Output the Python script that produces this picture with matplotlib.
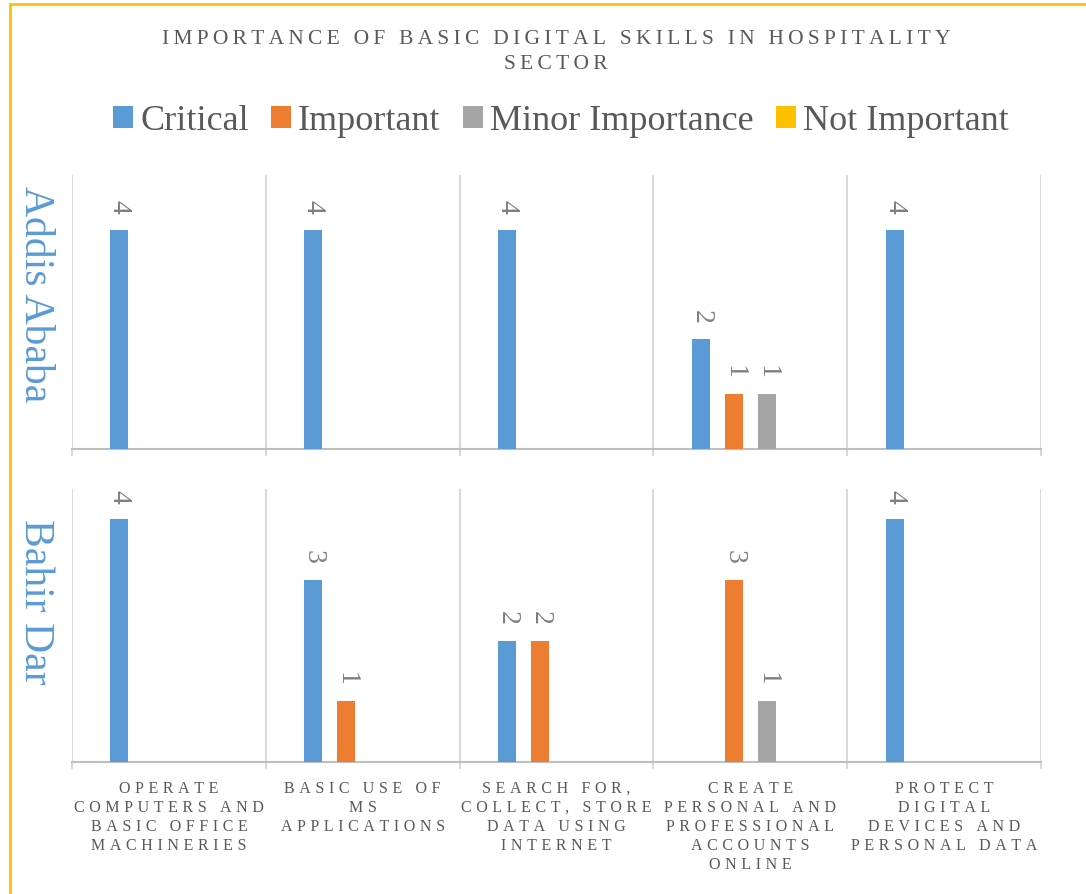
import matplotlib
matplotlib.use("Agg")
import matplotlib.pyplot as plt
from matplotlib.patches import Rectangle, Patch
import numpy as np

plt.rcParams['font.family'] = ['Liberation Serif', 'DejaVu Serif']

title = "IMPORTANCE OF BASIC DIGITAL SKILLS IN HOSPITALITY\nSECTOR"
categories = [
    "OPERATE\nCOMPUTERS AND\nBASIC OFFICE\nMACHINERIES",
    "BASIC USE OF\nMS\nAPPLICATIONS",
    "SEARCH FOR,\nCOLLECT, STORE\nDATA USING\nINTERNET",
    "CREATE\nPERSONAL AND\nPROFESSIONAL\nACCOUNTS\nONLINE",
    "PROTECT\nDIGITAL\nDEVICES AND\nPERSONAL DATA",
]
series = ["Critical", "Important", "Minor Importance", "Not Important"]
colors = ["#5B9BD5", "#ED7D31", "#A5A5A5", "#FFC000"]
regions = ["Addis Ababa", "Bahir Dar"]

addis_critical = [4, 4, 4, 2, 4]
addis_important = [0, 0, 0, 1, 0]
addis_minor = [0, 0, 0, 1, 0]
addis_not = [0, 0, 0, 0, 0]

bahir_critical = [4, 3, 2, 0, 4]
bahir_important = [0, 1, 2, 3, 0]
bahir_minor = [0, 0, 0, 1, 0]
bahir_not = [0, 0, 0, 0, 0]

panel_values = [
    [addis_critical, addis_important, addis_minor, addis_not],
    [bahir_critical, bahir_important, bahir_minor, bahir_not],
]
panel_ylim = [5.0, 4.5]

TEXT = "#595959"
LABEL = "#7F7F7F"
GRID = "#D9D9D9"


def spaced(s, sep="\u2009"):
    return "\n".join(sep.join(line) for line in s.split("\n"))


W, H = 1086, 895
fig = plt.figure(figsize=(W / 100, H / 100), dpi=100)

# outer frame
fig.patches.append(Rectangle((10 / W, -0.1), 1.2, 1 - 5 / H + 0.1,
                             transform=fig.transFigure, fill=False,
                             edgecolor="#FFC000", linewidth=2))

fig.text(556 / W, 1 - 52 / H, spaced(title), ha="center", va="center",
         fontsize=15.5, color=TEXT, linespacing=1.45)

handles = [Patch(facecolor=c, edgecolor="none") for c in colors]
fig.legend(handles, series, loc="center", bbox_to_anchor=(561 / W, 1 - 122 / H),
           ncol=4, frameon=False, fontsize=26, handlelength=0.55, handleheight=0.55,
           handletextpad=0.2, columnspacing=0.62, labelcolor=TEXT)

panels = [(176, 450), (490, 763)]
left, right = 72, 1041
ncat = len(categories)
x = np.arange(ncat)
step = 0.17
width = 0.093

for p, (top, bottom) in enumerate(panels):
    ax = fig.add_axes([left / W, 1 - bottom / H, (right - left) / W, (bottom - top) / H])
    ax.set_xlim(-0.5, ncat - 0.5)
    ax.set_ylim(0, panel_ylim[p])
    for s, vals in enumerate(panel_values[p]):
        offs = (s - 1.5) * step
        v = np.array(vals, dtype=float)
        mask = v > 0
        bars = ax.bar(x[mask] + offs, v[mask], width=width, color=colors[s], zorder=3)
        for b, val in zip(bars, v[mask]):
            ax.annotate(f"{int(val)}", (b.get_x() + b.get_width() / 2, val),
                        xytext=(0, 12), textcoords="offset points",
                        ha="center", va="bottom", rotation=-90,
                        fontsize=20, color=LABEL)
    for sp in ["top", "left", "right"]:
        ax.spines[sp].set_visible(False)
    ax.spines["bottom"].set_color("#BFBFBF")
    ax.spines["bottom"].set_linewidth(1.5)
    ax.set_yticks([])
    ax.set_xticks(np.arange(ncat + 1) - 0.5, minor=True)
    ax.grid(True, which="minor", axis="x", color=GRID, linewidth=1.5, zorder=0)
    ax.tick_params(which="minor", length=5, color=GRID, width=1.5)
    ax.set_xticks(x)
    if p == 1:
        ax.set_xticklabels([spaced(c, "\u2009\u200a") for c in categories], fontsize=11.5,
                           color=TEXT, linespacing=1.25, va="top")
        ax.tick_params(which="major", length=0, pad=13)
    else:
        ax.set_xticklabels([])
        ax.tick_params(which="major", length=0)
    ax.text(-0.038, 0.57 if p == 0 else 0.59, regions[p], transform=ax.transAxes,
            rotation=-90, ha="center", va="center", fontsize=30, color="#5B9BD5")

fig.savefig("out.png", dpi=100)
